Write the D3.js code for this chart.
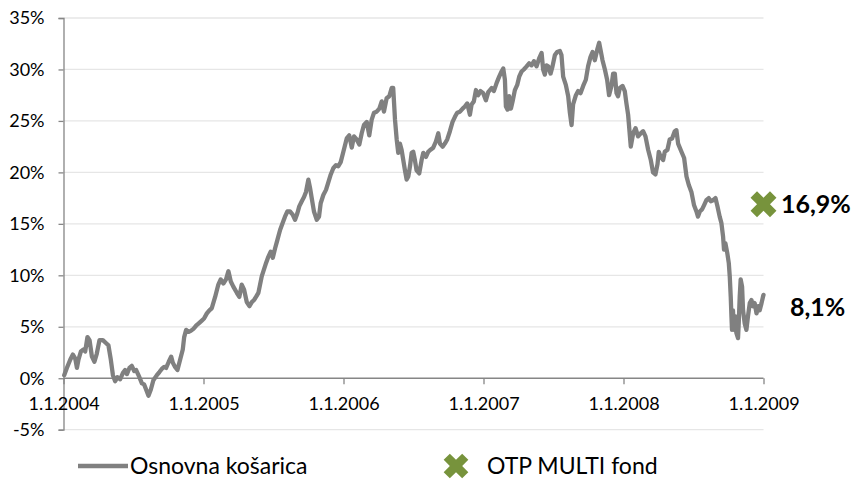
<!DOCTYPE html>
<html>
<head>
<meta charset="utf-8">
<script src="https://cdn.jsdelivr.net/npm/d3@7/dist/d3.min.js"></script>
<style>
  html, body { margin: 0; padding: 0; background: #fff; }
  svg { display: block; font-family: Lato, "Open Sans", sans-serif; }
</style>
</head>
<body>
<svg id="chart" width="853" height="479"></svg>
<script>
// ---- DATA ----
// time in years since 1.1.2004
const yearsSinceStart = [
0.005,0.024,0.048,0.067,0.084,0.096,0.107,0.124,0.143,0.155,0.171,0.186,0.203,0.221,0.238,0.257,0.281,0.305,0.321,0.338,
0.353,0.369,0.385,0.405,0.424,0.440,0.453,0.471,0.488,0.505,0.519,0.542,0.560,0.576,0.590,0.607,0.624,0.642,0.667,0.685,
0.702,0.719,0.733,0.752,0.769,0.781,0.797,0.814,0.833,0.852,0.862,0.876,0.892,0.909,0.928,0.947,0.964,0.988,
1.004,1.024,1.042,1.059,1.083,1.106,1.123,1.142,1.161,1.178,1.195,1.213,1.238,1.256,1.273,1.290,1.309,1.328,1.345,1.361,
1.375,1.392,1.404,1.416,1.428,1.447,1.463,1.480,1.495,1.511,1.527,1.547,1.566,1.582,1.599,1.618,1.637,1.654,1.670,1.684,
1.702,1.718,1.732,1.749,1.761,1.773,1.789,1.809,1.825,1.837,1.856,1.875,1.891,1.909,1.927,1.946,1.963,1.980,1.999,
2.023,2.041,2.059,2.075,2.094,2.113,2.130,2.146,2.166,2.184,2.201,2.218,2.237,2.256,2.273,2.289,2.308,2.327,2.344,2.355,
2.368,2.380,2.391,2.403,2.415,2.427,2.439,2.451,2.463,2.475,2.487,2.498,2.510,2.522,2.541,2.558,2.570,2.589,2.605,2.622,
2.641,2.660,2.677,2.689,2.708,2.724,2.741,2.760,2.779,2.796,2.812,2.832,2.851,2.867,2.884,2.903,2.915,2.931,2.946,2.962,2.979,
2.998,3.017,3.034,3.058,3.074,3.094,3.112,3.129,3.141,3.153,3.160,3.172,3.183,3.196,3.208,3.224,3.241,3.255,3.272,3.288,
3.308,3.326,3.343,3.360,3.379,3.398,3.415,3.426,3.438,3.450,3.462,3.479,3.493,3.510,3.526,3.545,3.557,3.569,3.588,3.605,
3.617,3.629,3.640,3.660,3.676,3.693,3.712,3.731,3.747,3.764,3.779,3.795,3.812,3.826,3.836,3.850,3.867,3.883,3.897,3.914,
3.926,3.938,3.950,3.961,3.974,3.993,4.009,4.021,4.033,
4.052,4.069,4.086,4.104,4.123,4.140,4.157,4.176,4.195,4.211,4.228,4.243,4.252,4.266,4.283,4.295,4.314,4.330,4.347,4.366,
4.378,4.390,4.414,4.433,4.450,4.466,4.485,4.504,4.521,4.532,4.545,4.561,4.575,4.592,4.609,4.623,4.640,4.657,4.671,4.687,
4.699,4.711,4.718,4.728,4.742,4.752,4.759,4.766,4.771,4.775,4.782,4.789,4.799,4.806,4.818,4.823,4.830,4.837,4.847,4.854,
4.866,4.878,4.889,4.902,4.914,4.925,4.937,4.950,4.962,4.973,4.986,4.996,5.000
];
// Osnovna košarica (cumulative return, %)
const basketValues = [
0.3,1.0,1.8,2.3,1.9,1.0,1.8,2.6,2.8,2.6,4.0,3.7,2.1,1.6,2.4,3.7,3.7,3.4,3.2,1.8,
0.3,-0.3,0.1,-0.1,0.5,0.8,0.4,1.0,1.2,0.7,0.8,0.1,-0.5,-0.6,-1.1,-1.7,-1.1,-0.2,0.3,0.6,
0.9,1.1,1.0,1.6,2.1,1.5,1.1,0.8,1.8,2.8,4.0,4.7,4.5,4.6,4.8,5.1,5.3,5.6,
5.8,6.3,6.6,6.8,7.9,9.1,9.6,9.2,9.6,10.4,9.4,8.9,8.3,7.9,9.1,8.6,7.4,7.0,7.4,7.6,
7.9,8.3,9.1,9.9,10.4,11.2,11.8,12.3,11.7,12.6,13.4,14.4,15.1,15.7,16.2,16.2,15.9,15.4,16.0,16.7,
17.2,17.6,18.1,19.3,18.5,17.5,16.2,15.4,15.7,17.0,17.8,18.3,19.0,19.8,20.4,20.7,20.6,21.0,22.0,
23.3,23.6,22.4,23.5,23.2,22.7,23.8,24.6,24.9,23.6,25.1,25.8,25.9,26.2,26.9,25.9,27.2,27.4,28.2,28.2,
25.1,23.2,21.9,22.8,22.2,21.2,20.2,19.3,19.6,20.6,21.9,22.0,21.2,20.2,19.9,21.2,21.9,21.5,22.0,22.2,
22.4,23.0,23.8,22.8,22.5,22.8,23.2,24.0,24.9,25.4,25.8,25.9,26.2,26.4,26.7,25.6,26.6,26.9,28.0,27.5,27.9,
27.7,27.0,27.8,28.2,27.9,28.7,29.3,29.8,30.1,29.0,26.4,26.1,27.4,26.2,26.9,28.0,28.5,29.3,29.8,30.0,
30.3,30.6,30.4,30.8,30.3,31.1,31.6,30.0,29.5,30.4,30.3,29.6,30.3,31.4,31.7,31.8,31.4,29.3,28.5,27.4,
25.8,24.6,26.6,27.5,27.9,27.7,28.4,29.0,30.3,31.2,31.7,30.9,31.9,32.6,31.9,30.9,30.0,29.0,27.5,28.4,
29.6,29.6,27.7,27.4,28.2,28.4,27.9,26.7,25.6,
22.5,23.8,24.3,23.5,23.8,24.0,23.5,22.2,21.2,20.0,19.8,20.8,22.0,21.5,21.2,22.0,22.2,23.2,23.3,24.0,
24.1,22.8,22.0,21.4,19.6,18.8,18.1,16.8,16.2,15.7,16.2,16.4,16.8,17.3,17.5,17.2,17.3,17.5,16.7,15.7,
15.1,13.8,12.5,13.1,12.1,11.2,9.9,7.9,6.0,4.7,6.6,4.7,6.0,4.4,3.9,5.3,7.9,9.6,8.9,6.6,
5.3,4.7,6.0,7.3,7.6,7.0,7.3,6.3,7.0,6.6,7.3,7.9,8.1
];
// OTP MULTI fond (single point at end)
const fundTime = [5.0];
const fundValues = [16.9];

const seriesNames = ["Osnovna košarica", "OTP MULTI fond"];
const xTickValues = [0, 1, 2, 3, 4, 5];
const xTickLabels = ["1.1.2004", "1.1.2005", "1.1.2006", "1.1.2007", "1.1.2008", "1.1.2009"];
const yTickValues = [-5, 0, 5, 10, 15, 20, 25, 30, 35];
const endLabels = ["16,9%", "8,1%"];

// ---- CHART ----
const svg = d3.select("#chart");
const x = d3.scaleLinear().domain([0, 5]).range([63.5, 763.5]);
const y = d3.scaleLinear().domain([-5, 35]).range([429.7, 18]);

const lineColor = "#808080";
const fundColor = "#77933C";

// gridlines
svg.append("g").selectAll("line")
  .data(yTickValues.filter(d => d !== 0))
  .join("line")
  .attr("x1", x(0)).attr("x2", x(5))
  .attr("y1", d => y(d)).attr("y2", d => y(d))
  .attr("stroke", "#e6e6e6").attr("stroke-width", 1.3);

// y axis
const yAxis = d3.axisLeft(y).tickValues(yTickValues).tickSize(5).tickPadding(14)
  .tickFormat(d => d + "%");
const gy = svg.append("g").attr("transform", `translate(${x(0)},0)`).call(yAxis);
gy.select(".domain").attr("stroke", "#868686").attr("stroke-width", 1.3);
gy.selectAll(".tick line").attr("stroke", "#868686").attr("stroke-width", 1.3);
gy.selectAll(".tick text").attr("font-size", 18).attr("fill", "#000")
  .attr("font-family", "Lato, sans-serif");

// x axis at 0%
const xAxis = d3.axisBottom(x).tickValues(xTickValues).tickSize(6).tickPadding(13)
  .tickFormat((d, i) => xTickLabels[i]);
const gx = svg.append("g").attr("transform", `translate(0,${y(0)})`).call(xAxis);
gx.select(".domain").attr("stroke", "#868686").attr("stroke-width", 1.3).attr("d", `M${x(0)},0H${x(5)}`);
gx.selectAll(".tick line").attr("stroke", "#868686").attr("stroke-width", 1.3);
gx.selectAll(".tick text").attr("font-size", 18).attr("fill", "#000")
  .attr("font-family", "Lato, sans-serif");

// basket line
const data = yearsSinceStart.map((t, i) => ({ t, v: basketValues[i] }));
const line = d3.line().x(d => x(d.t)).y(d => y(d.v));
svg.append("path").datum(data)
  .attr("d", line)
  .attr("fill", "none")
  .attr("stroke", lineColor)
  .attr("stroke-width", 4.3)
  .attr("stroke-linejoin", "round")
  .attr("stroke-linecap", "round");

// fund marker
const xSym = d3.symbol().type(d3.symbolCross).size(420);
svg.append("g").selectAll("path")
  .data(fundTime.map((t, i) => ({ t, v: fundValues[i] })))
  .join("path")
  .attr("d", xSym)
  .attr("transform", d => `translate(${x(d.t)},${y(d.v)}) rotate(45)`)
  .attr("fill", fundColor);

// end labels
svg.append("text").attr("x", 781).attr("y", y(fundValues[0])).attr("dy", "0.36em")
  .attr("font-size", 25).attr("font-weight", "bold").attr("fill", "#000")
  .text(endLabels[0]);
svg.append("text").attr("x", 790).attr("y", y(basketValues[basketValues.length - 1]) + 12).attr("dy", "0.36em")
  .attr("font-size", 25).attr("font-weight", "bold").attr("fill", "#000")
  .text(endLabels[1]);

// legend
const lg = svg.append("g");
lg.append("line").attr("x1", 78).attr("x2", 128).attr("y1", 466).attr("y2", 466)
  .attr("stroke", lineColor).attr("stroke-width", 4.3);
lg.append("text").attr("x", 130).attr("y", 466).attr("dy", "0.36em")
  .attr("font-size", 23).attr("fill", "#000").text(seriesNames[0]);
lg.append("path").attr("d", d3.symbol().type(d3.symbolCross).size(380))
  .attr("transform", "translate(456,466) rotate(45)").attr("fill", fundColor);
lg.append("text").attr("x", 487).attr("y", 466).attr("dy", "0.36em")
  .attr("font-size", 23).attr("fill", "#000").text(seriesNames[1]);
</script>
</body>
</html>
